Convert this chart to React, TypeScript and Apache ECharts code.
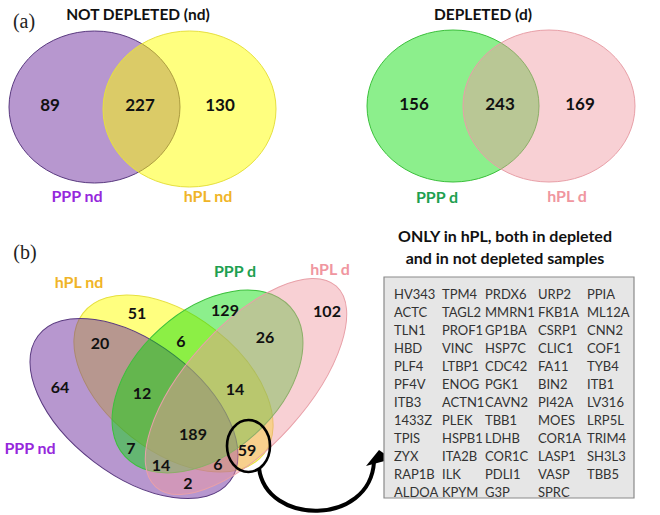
import React, { useEffect, useRef } from "react";
import * as echarts from "echarts";

// ---- data ----
const panelTitles = ["NOT DEPLETED (nd)", "DEPLETED (d)"];
const panelTags = ["(a)", "(b)"];
const ndSets = ["PPP nd", "hPL nd"];
const ndCounts = [89, 227, 130]; // PPP only, both, hPL only
const dSets = ["PPP d", "hPL d"];
const dCounts = [156, 243, 169];

const quadSets = ["PPP nd", "hPL nd", "PPP d", "hPL d"]; // A, B, C, D
const quadRegions = ["A", "B", "C", "D", "AB", "BC", "CD", "ABC", "BCD", "ABCD", "AC", "ACD", "ABD", "AD", "BD"];
const quadCounts = [64, 51, 129, 102, 20, 6, 26, 12, 14, 189, 7, 14, 6, 2, 59];

const boxTitle = ["ONLY in hPL, both in depleted", "and in not depleted samples"];
const proteinsCol1 = ["HV343", "ACTC", "TLN1", "HBD", "PLF4", "PF4V", "ITB3", "1433Z", "TPIS", "ZYX", "RAP1B", "ALDOA"];
const proteinsCol2 = ["TPM4", "TAGL2", "PROF1", "VINC", "LTBP1", "ENOG", "ACTN1", "PLEK", "HSPB1", "ITA2B", "ILK", "KPYM"];
const proteinsCol3 = ["PRDX6", "MMRN1", "GP1BA", "HSP7C", "CDC42", "PGK1", "CAVN2", "TBB1", "LDHB", "COR1C", "PDLI1", "G3P"];
const proteinsCol4 = ["URP2", "FKB1A", "CSRP1", "CLIC1", "FA11", "BIN2", "PI42A", "MOES", "COR1A", "LASP1", "VASP", "SPRC"];
const proteinsCol5 = ["PPIA", "ML12A", "CNN2", "COF1", "TYB4", "ITB1", "LV316", "LRP5L", "TRIM4", "SH3L3", "TBB5"];

// ---- layout & style ----
const FONT = "Lato";
const C = {
  purpleFill: "rgba(112,48,160,0.5)",
  purpleStroke: "#5a3a80",
  yellowFill: "rgba(255,255,0,0.5)",
  yellowStroke: "#e6e040",
  greenFill: "rgba(0,220,0,0.45)",
  greenStroke: "#3cc03c",
  pinkFill: "rgba(240,150,160,0.45)",
  pinkStroke: "#e8a0a8",
  purpleText: "#9628dc",
  orangeText: "#f0b428",
  greenText: "#1ea050",
  pinkText: "#f096a0",
};

const regionPos: Record<string, [number, number]> = {
  A: [60, 386], B: [137, 312], C: [225, 309], D: [327, 310],
  AB: [100, 342], BC: [181, 340], CD: [265, 336],
  ABC: [142, 392], BCD: [235, 388], ABCD: [193, 433],
  AC: [131, 447], ACD: [161, 464], ABD: [218, 463], AD: [188, 482], BD: [247, 449],
};

const deg = Math.PI / 180;

function txt(text: string, x: number, y: number, font: string, fill = "#111", align = "center") {
  return {
    type: "text",
    x,
    y,
    silent: true,
    style: {
      text,
      font,
      fill,
      textAlign: align,
      textVerticalAlign: "middle",
      align,
      verticalAlign: "middle",
    },
  };
}

function ell(cx: number, cy: number, rx: number, ry: number, rot: number, fill: string, stroke: string) {
  return {
    type: "ellipse",
    x: cx,
    y: cy,
    rotation: rot * deg,
    shape: { cx: 0, cy: 0, rx, ry },
    style: { fill, stroke, lineWidth: 1 },
  };
}

function buildOption() {
  const g: any[] = [];
  const numFontA = `bold 17px ${FONT}`;
  const numFontB = `bold 16px ${FONT}`;
  const labFont = `bold 16px ${FONT}`;
  const titleFont = `bold 15.5px ${FONT}`;

  // panel tags
  g.push(txt(panelTags[0], 24, 21, "20px 'Liberation Serif'", "#222"));
  g.push(txt(panelTags[1], 25, 252, "20px 'Liberation Serif'", "#222"));

  // panel (a) left
  g.push(txt(panelTitles[0], 138, 14, titleFont, "#111"));
  g.push(ell(94.5, 107, 85.5, 76, 0, C.purpleFill, C.purpleStroke));
  g.push(ell(189.5, 109, 86.5, 78, 0, C.yellowFill, C.yellowStroke));
  g.push(txt(String(ndCounts[0]), 50, 104, numFontA));
  g.push(txt(String(ndCounts[1]), 140, 104, numFontA));
  g.push(txt(String(ndCounts[2]), 220, 104, numFontA));
  g.push(txt(ndSets[0], 77, 195, labFont, C.purpleText));
  g.push(txt(ndSets[1], 208, 195, labFont, C.orangeText));

  // panel (a) right
  g.push(txt(panelTitles[1], 483, 14, titleFont, "#111"));
  g.push(ell(453, 106, 86, 76, 0, C.greenFill, C.greenStroke));
  g.push(ell(549, 106, 86, 76, 0, C.pinkFill, C.pinkStroke));
  g.push(txt(String(dCounts[0]), 414, 103, numFontA));
  g.push(txt(String(dCounts[1]), 500, 103, numFontA));
  g.push(txt(String(dCounts[2]), 580, 103, numFontA));
  g.push(txt(dSets[0], 437, 196, labFont, C.greenText));
  g.push(txt(dSets[1], 567, 195, labFont, C.pinkText));

  // panel (b) four-set venn
  g.push(ell(173.5, 383.5, 114.6, 67.9, -37.9, C.yellowFill, C.yellowStroke));
  g.push(ell(134, 408.5, 120.3, 66.6, -37.2, C.purpleFill, C.purpleStroke));
  g.push(ell(207.5, 381.5, 111.5, 71, 42.1, C.greenFill, C.greenStroke));
  g.push(ell(246, 386.5, 135, 60, 48, C.pinkFill, C.pinkStroke));

  quadRegions.forEach((r, i) => {
    const p = regionPos[r];
    g.push(txt(String(quadCounts[i]), p[0], p[1], numFontB));
  });

  g.push(txt(quadSets[0], 30, 447, labFont, C.purpleText));
  g.push(txt(quadSets[1], 79, 281, labFont, C.orangeText));
  g.push(txt(quadSets[2], 235, 270, labFont, C.greenText));
  g.push(txt(quadSets[3], 330, 268, labFont, C.pinkText));

  // highlight circle around 59
  g.push({
    type: "ellipse",
    x: 248.5,
    y: 446,
    shape: { cx: 0, cy: 0, rx: 21.5, ry: 26 },
    style: { fill: "none", stroke: "#000", lineWidth: 2.6 },
  });

  // arrow
  g.push({
    type: "bezierCurve",
    shape: { x1: 259, y1: 468, cpx1: 266, cpy1: 526, cpx2: 370, cpy2: 526, x2: 374, y2: 462 },
    style: { stroke: "#000", lineWidth: 4, fill: "none" },
  });
  g.push({
    type: "polygon",
    shape: { points: [[366, 466], [379, 450], [392, 459]] },
    style: { fill: "#000" },
  });

  // protein box
  g.push(txt(boxTitle[0], 505, 235, `bold 16px ${FONT}`, "#111"));
  g.push(txt(boxTitle[1], 505, 257, `bold 16px ${FONT}`, "#111"));
  g.push({
    type: "rect",
    shape: { x: 384, y: 277, width: 250, height: 221 },
    style: { fill: "#e6e6e6", stroke: "#8a8a8a", lineWidth: 1.2 },
  });
  const cols = [proteinsCol1, proteinsCol2, proteinsCol3, proteinsCol4, proteinsCol5];
  const colX = [394, 442, 485, 538, 587];
  cols.forEach((col, ci) => {
    col.forEach((name, ri) => {
      g.push(txt(name, colX[ci], 294 + ri * 18, `13px ${FONT}`, "#333", "left"));
    });
  });

  return { animation: false, backgroundColor: "#ffffff", graphic: { elements: g } };
}

export default function App() {
  const ref = useRef<HTMLDivElement>(null);
  useEffect(() => {
    if (!ref.current) return;
    const chart = echarts.init(ref.current, undefined, { renderer: "svg" });
    chart.setOption(buildOption() as any);
    return () => chart.dispose();
  }, []);
  return (
    <div
      ref={ref}
      style={{ position: "fixed", left: 0, top: 0, width: 660, height: 515, background: "#fff" }}
    />
  );
}
